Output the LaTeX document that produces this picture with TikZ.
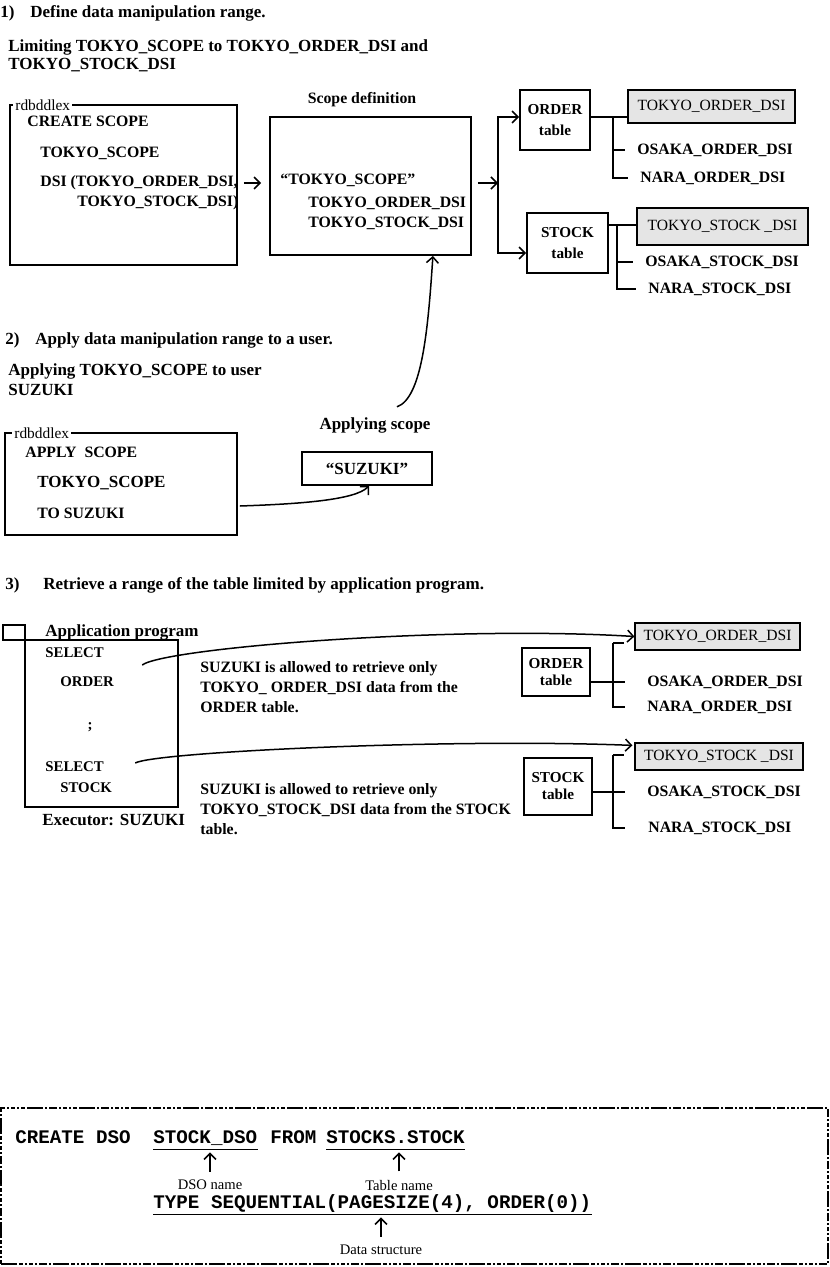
\documentclass[tikz,border=0pt]{standalone}
\usepackage{fontspec}
\setmainfont{Liberation Serif}
\setmonofont{Liberation Mono}
\usetikzlibrary{arrows.meta,fit}

\tikzset{
  big/.style={font=\fontsize{8.5}{10}\selectfont\bfseries, inner sep=0pt},
  txt/.style={font=\fontsize{7.9}{10}\selectfont\bfseries, inner sep=0pt},
  prog/.style={font=\fontsize{7.4}{9}\selectfont\bfseries, inner sep=0pt},
  lbl/.style={font=\fontsize{7.7}{9}\selectfont, inner sep=1pt, fill=white},
  tinylbl/.style={font=\fontsize{7.3}{8}\selectfont, inner sep=0pt},
  code/.style={font=\fontsize{9.6}{11}\selectfont\ttfamily\bfseries, inner xsep=0pt, inner ysep=1pt, text height=7pt, text depth=2pt},
  boxed/.style={draw, line width=0.9pt, inner sep=0pt},
  tbl/.style={draw, line width=0.9pt, inner sep=0pt, align=center, font=\fontsize{7.6}{10.5}\selectfont\bfseries},
  dsi/.style={draw, fill=gray!20, line width=0.6pt, inner sep=0pt, font=\fontsize{7.8}{9}\selectfont},
  arr/.style={-{Straight Barb[length=3pt,width=6pt]}, line width=0.75pt},
  link/.style={line width=0.75pt},
  dashframe/.style={draw, inner sep=0pt, line width=1pt, dash pattern=on 8pt off 1pt on 2pt off 1pt on 1pt off 1pt on 2pt off 1pt on 1pt off 1pt on 4pt off 1pt on 1pt off 1pt}
}

\begin{document}
\begin{tikzpicture}[x=0.5pt, y=-0.5pt]
\useasboundingbox (0,0) rectangle (829,1267);

% 1) Define data manipulation range
\node[big, anchor=west] (head1) at (0,13) {\makebox[15pt][l]{1)}Define data manipulation range.};
\node[big, anchor=west, align=left] (limitNote) at (8,56) {Limiting TOKYO\_SCOPE to TOKYO\_ORDER\_DSI and\\[-1pt]TOKYO\_STOCK\_DSI};

\node[boxed, fit={(10,105) (237,265)}] (ddlA) {};
\node[lbl, anchor=west] (ddlAtag) at (13,105) {rdbddlex\hspace{9pt}};
\node[txt, anchor=west] (createA) at (27,121) {CREATE SCOPE};
\node[txt, anchor=west] (scopeA) at (40,153) {TOKYO\_SCOPE};
\node[txt, anchor=west] (dsiA) at (40,183) {DSI (TOKYO\_ORDER\_DSI,};
\node[txt, anchor=west] (dsiB) at (77,203) {TOKYO\_STOCK\_DSI)};

\node[boxed, fit={(270,117) (471,255)}] (scopeBox) {};
\node[txt] (scopeTitle) at (362,100) {Scope definition};
\node[txt, anchor=west] (scopeName) at (280,180) {“TOKYO\_SCOPE”};
\node[txt, anchor=west] (scopeO) at (308,203) {TOKYO\_ORDER\_DSI};
\node[txt, anchor=west] (scopeS) at (308,223) {TOKYO\_STOCK\_DSI};

\node[tbl, minimum width=35pt, minimum height=30pt] (orderA) at (555,120) {ORDER\\table};
\node[dsi, minimum width=83.5pt, minimum height=16.5pt] (tokyoOA) at (711.5,106.5) {TOKYO\_ORDER\_DSI};
\node[txt, anchor=west] (osakaOA) at (637,150) {OSAKA\_ORDER\_DSI};
\node[txt, anchor=west] (naraOA) at (640,178) {NARA\_ORDER\_DSI};

\node[tbl, minimum width=40.5pt, minimum height=30pt] (stockA) at (567.5,243) {STOCK\\table};
\node[dsi, minimum width=85.5pt, minimum height=18.5pt] (tokyoSA) at (722.5,226.5) {TOKYO\_STOCK \_DSI};
\node[txt, anchor=west] (osakaSA) at (645,262) {OSAKA\_STOCK\_DSI};
\node[txt, anchor=west] (naraSA) at (648,289) {NARA\_STOCK\_DSI};

\draw[arr] ([xshift=3pt]ddlA.east |- dsiA.east) -- ([xshift=-4pt]scopeBox.west |- dsiA.east);
\coordinate (forkA) at (498,183);
\draw[arr] ([xshift=3pt]scopeBox.east |- forkA) -- (forkA);
\draw[arr] (forkA) |- ([yshift=1.5pt]orderA.west);
\draw[arr] (forkA) |- ([yshift=-5pt]stockA.west);

\coordinate (brA) at (613,117);
\draw[link] (orderA.east |- brA) -- (tokyoOA.west |- brA);
\foreach \n in {osakaOA,naraOA}
  \draw[link] (brA) |- ([xshift=-6pt]\n.west);
\coordinate (brB) at (617,225);
\draw[link] (stockA.east |- brB) -- (tokyoSA.west |- brB);
\foreach \n in {osakaSA,naraSA}
  \draw[link] (brB) |- ([xshift=-6pt]\n.west);

% 2) Apply data manipulation range to a user
\node[big, anchor=west] (head2) at (5,340) {\makebox[15pt][l]{2)}Apply data manipulation range to a user.};
\node[big, anchor=west, align=left] (applyNote) at (8,380) {Applying TOKYO\_SCOPE to user\\SUZUKI};

\node[boxed, fit={(5,433) (237,535)}] (ddlB) {};
\node[lbl, anchor=west] (ddlBtag) at (12,433) {rdbddlex\hspace{10pt}};
\node[txt, anchor=west] (applyB) at (25,452) {APPLY\ \ SCOPE};
\node[big, anchor=west] (scopeB) at (37,483) {TOKYO\_SCOPE};
\node[txt, anchor=west] (toB) at (37,513) {TO SUZUKI};

\node[big] (applyLbl) at (375,425) {Applying scope};
\node[boxed, big, minimum width=65pt, minimum height=16.5pt] (suzukiBox) at (367,468.5) {“SUZUKI”};

\draw[arr] ([shift={(11pt,5pt)}]applyLbl.north) .. controls (422,398) and (428,330) .. ([xshift=-19.5pt]scopeBox.south east);
\draw[arr] ([shift={(1pt,-11pt)}]ddlB.east) .. controls (300,504) and (355,500) .. ([xshift=1pt]suzukiBox.south);

% 3) Retrieve a range of the table
\node[big, anchor=west] (head3) at (5,585) {\makebox[19pt][l]{3)}Retrieve a range of the table limited by application program.};

\node[boxed, line width=0.7pt, fit={(3,625) (25,640)}] (appTag) {};
\node[boxed, line width=0.7pt, fit={(25,640) (178,807)}] (appBox) {};
\node[big, anchor=west] (appTitle) at (45,632) {Application program};
\node[prog, anchor=west] (sel1) at (45,653) {SELECT};
\node[prog, anchor=west] (tab1) at (60,682) {ORDER};
\node[prog] (semi) at (90,727) {;};
\node[prog, anchor=west] (sel2) at (45,767) {SELECT};
\node[prog, anchor=west] (tab2) at (60,788) {STOCK};
\node[big, anchor=west] (executor) at (42,820) {Executor: SUZUKI};

\node[txt, anchor=west, align=left] (descO) at (200,687) {SUZUKI is allowed to retrieve only\\TOKYO\_ ORDER\_DSI data from the\\ORDER table.};
\node[txt, anchor=west, align=left] (descS) at (200,809) {SUZUKI is allowed to retrieve only\\TOKYO\_STOCK\_DSI data from the STOCK\\table.};

\node[tbl, line width=0.7pt, font=\fontsize{7.6}{8.5}\selectfont\bfseries, minimum width=34pt, minimum height=24pt] (orderB) at (556,672) {ORDER\\table};
\node[dsi, minimum width=82.5pt, minimum height=13.5pt] (tokyoOB) at (717.5,636.5) {TOKYO\_ORDER\_DSI};
\node[txt, anchor=west] (osakaOB) at (647,682) {OSAKA\_ORDER\_DSI};
\node[txt, anchor=west] (naraOB) at (647,707) {NARA\_ORDER\_DSI};

\node[tbl, line width=0.7pt, font=\fontsize{7.6}{8.5}\selectfont\bfseries, minimum width=34pt, minimum height=28.5pt] (stockB) at (558,786.5) {STOCK\\table};
\node[dsi, minimum width=84pt, minimum height=13.5pt] (tokyoSB) at (719,756.5) {TOKYO\_STOCK \_DSI};
\node[txt, anchor=west] (osakaSB) at (647,792) {OSAKA\_STOCK\_DSI};
\node[txt, anchor=west] (naraSB) at (648,828) {NARA\_STOCK\_DSI};

\coordinate (brC) at (613,643);
\draw[link] (brC) -- ([xshift=-5pt]tokyoOB.west |- brC);
\draw[link] (orderB.east |- osakaOB.west) -- ([xshift=-11pt]osakaOB.west);
\draw[link] (brC) |- ([xshift=-11pt]naraOB.west);
\coordinate (brD) at (613,755);
\draw[link] (brD) -- ([xshift=-5pt]tokyoSB.west |- brD);
\draw[link] (stockB.east |- osakaSB.west) -- ([xshift=-11pt]osakaSB.west);
\draw[link] (brD) |- ([xshift=-11.5pt]naraSB.west);

\draw[arr] ([shift={(19pt,-6pt)}]sel1.east) .. controls (165,648) and (450,625) .. (tokyoOB.west);
\draw[arr] ([shift={(15.5pt,2pt)}]sel2.east) .. controls (155,752) and (450,738) .. ([shift={(-1pt,-1.5pt)}]tokyoSB.north west);

% CREATE DSO statement
\node[dashframe, fit={(1,1108) (828,1264)}] (dsoFrame) {};
\node[code, anchor=west] (createD) at (15,1138) {CREATE DSO};
\node[code, anchor=west] (dsoName) at (153,1138) {STOCK\_DSO};
\node[code, anchor=west] (fromD) at (270,1138) {FROM};
\node[code, anchor=west] (tblName) at (326,1138) {STOCKS.STOCK};
\node[code, anchor=west] (typeD) at (153,1203) {TYPE SEQUENTIAL(PAGESIZE(4), ORDER(0))};
\foreach \n in {dsoName,tblName,typeD}
  \draw[link] (\n.south west) -- (\n.south east);

\node[tinylbl] (dsoLbl) at (210,1185) {DSO name};
\node[tinylbl] (tblLbl) at (399,1185) {Table name};
\node[tinylbl] (dataLbl) at (381,1250) {Data structure};
\foreach \l/\n in {dsoLbl/dsoName,tblLbl/tblName,dataLbl/typeD}
  \draw[arr] ([yshift=4pt]\l.north) -- ([yshift=-1.5pt]\l.north |- \n.south);

\end{tikzpicture}
\end{document}
